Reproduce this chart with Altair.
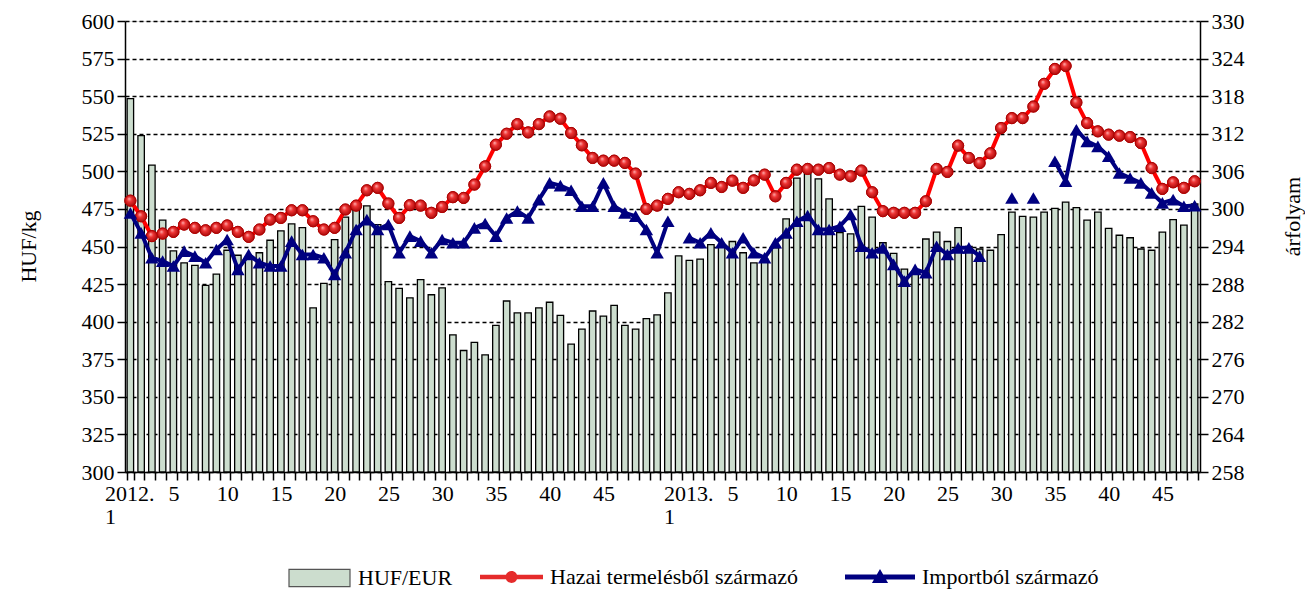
import altair as alt
import pandas as pd

# ---------------- data ----------------
years = [2012] * 52 + [2013] * 48
weeks = list(range(1, 53)) + list(range(1, 49))

huf_eur = [317.6, 311.7, 307.0, 298.2, 293.3, 291.4, 291.0, 287.8, 289.6, 293.4,
           292.6, 292.0, 293.0, 295.0, 296.5, 297.6, 297.0, 284.2, 288.1, 295.1,
           298.7, 299.8, 300.5, 297.5, 288.4, 287.3, 285.8, 288.7, 286.3, 287.4,
           279.9, 277.4, 278.7, 276.7, 281.4, 285.3, 283.4, 283.4, 284.2, 285.1,
           283.0, 278.4, 280.8, 283.7, 282.9, 284.6, 281.4, 280.8, 282.5, 283.1,
           286.6, 292.5, 291.8, 292.0, 294.3, 294.0, 294.8, 293.0, 291.4, 292.0,
           293.8, 298.4, 304.9, 305.8, 304.8, 301.6, 296.2, 296.0, 300.4, 298.7,
           294.6, 292.9, 290.4, 289.6, 295.2, 296.3, 294.8, 297.0, 294.0, 293.6,
           293.4, 295.9, 299.5, 298.8, 298.7, 299.5, 300.1, 301.1, 300.2, 298.2,
           299.5, 296.9, 295.8, 295.4, 293.6, 293.4, 296.3, 298.3, 297.4, 300.8]

hazai = [480.5, 470.1, 456.9, 458.6, 459.7, 464.6, 462.4, 460.8, 462.4, 464.0,
         459.7, 456.4, 461.3, 467.9, 469.0, 474.1, 474.1, 466.8, 461.3, 462.4,
         474.6, 477.2, 487.4, 489.0, 478.6, 469.0, 477.5,
         477.2, 472.4, 476.3, 482.8, 482.3, 491.2, 503.3, 517.7, 525.0, 531.4,
         525.9, 531.4, 536.5, 535.0, 525.5, 517.3, 508.9, 507.1, 507.1, 505.6,
         498.5, 475.0, 477.2, 481.7, 486.1,
         485.0, 487.4, 492.3, 489.6, 493.8, 489.0, 494.0, 497.8, 483.4, 492.3,
         501.1, 501.6, 501.1, 502.2, 497.8, 496.7, 500.5, 486.1, 473.5, 472.4,
         472.4, 472.4, 480.1, 501.6, 499.6, 517.1, 508.9, 505.5,
         512.0, 528.8, 535.4, 535.4, 543.1, 558.2, 568.1, 570.1, 545.8, 532.1,
         526.6, 524.4, 523.7, 522.8, 518.8, 502.2, 488.3, 492.7, 489.0, 493.4]

importbol = [472.3, 459.1, 442.5, 440.3, 437.0, 446.9, 443.6, 439.2, 448.0, 454.7,
             434.8, 444.7, 439.2, 437.0, 437.0, 453.6, 444.7, 444.7, 442.5, 431.4,
             445.8, 461.3, 467.9, 461.3, 464.6, 445.8, 456.9,
             453.6, 445.8, 454.7, 452.5, 452.5, 462.4, 465.3, 456.9, 469.0, 473.5,
             469.0, 481.2, 492.3, 490.5, 487.4, 476.8, 476.8, 492.3, 476.8, 472.4,
             470.2, 461.3, 445.8, 466.8, None,
             455.8, 452.5, 459.1, 452.5, 445.8, 455.8, 445.8, 442.5, 452.5, 459.1,
             466.8, 470.6, 461.3, 461.3, 463.5, 471.3, 450.2, 445.8, 449.1, 438.1,
             427.0, 434.8, 432.5, 450.2, 444.7, 449.1, 449.1, 443.6,
             None, None, 482.3, None, 482.3, None, 506.7, 493.4, 527.7, 519.9,
             516.6, 510.0, 498.9, 495.6, 492.3, 485.7, 479.0, 481.2, 476.8, 477.2]

series_names = ["HUF/EUR", "Hazai termelésből származó", "Importból származó"]

# tick labels (every 5th week, year at week 1)
x_labels = []
for y, w in zip(years, weeks):
    if w == 1:
        x_labels.append(f"{y}./1")
    elif w % 5 == 0 and w < 50:
        x_labels.append(str(w))
    else:
        x_labels.append("")

keys = [f"{i:03d}|{lab}" for i, lab in enumerate(x_labels)]

seg, s = [], 0
for v in importbol:
    if v is None:
        s += 1
    seg.append(s)

df = pd.DataFrame({
    "key": keys, "eur": huf_eur, "hazai": hazai, "imp": importbol, "seg": seg,
    "s_eur": series_names[0], "s_haz": series_names[1], "s_imp": series_names[2],
})

FONT = "Liberation Serif"
BAR_FILL = "#ccddce"
RED = "#ff0000"
NAVY = "#000080"

is_year = "isValid(datum.value) && indexof(datum.value,'/')>=0"
x_enc = alt.X(
    "key:O", sort=keys,
    scale=alt.Scale(paddingInner=0.4, paddingOuter=0.2),
    axis=alt.Axis(
        title=None,
        labelExpr="isValid(datum.value) && indexof(datum.value,'|')>=0 ? "
                  "split(split(datum.value,'|')[1],'/') : ''",
        labelAlign={"condition": {"test": is_year, "value": "left"}, "value": "center"},
        labelOffset={"condition": {"test": is_year, "value": -26}, "value": 0},
        labelAngle=0, labelOverlap=False, labelBound=False, tickBand="extent",
        tickSize=8, tickColor="black", tickWidth=1.5, domainColor="black",
        domainWidth=1.5, labelFont=FONT, labelFontSize=22, labelColor="black",
        labelPadding=3, labelLineHeight=23, labelBaseline="top", grid=False,
    ),
)

left_axis = alt.Axis(
    values=list(range(300, 601, 25)), title="HUF/kg", grid=True,
    gridDash=[4, 3], gridColor="black", gridWidth=1.5, gridOpacity=1,
    tickSize=8, tickColor="black", tickWidth=1.5, domainColor="black",
    domainWidth=1.5, labelFont=FONT, labelFontSize=22, labelColor="black",
    labelPadding=3, titleFont=FONT, titleFontSize=22, titleFontWeight="normal",
    titleColor="black", titleAngle=270, titleX=-97, titleY=225,
    titleAlign="center", titleBaseline="middle",
)
left_scale = alt.Scale(domain=[300, 600], nice=False, zero=False)

rect_path = "M-1,-0.28L1,-0.28L1,0.28L-1,0.28Z"
red_path = ("M-1,-0.07L1,-0.07L1,0.07L-1,0.07Z "
            "M0.19,0A0.19,0.19 0 1,1 -0.19,0A0.19,0.19 0 1,1 0.19,0Z")
blue_path = "M-1,-0.07L1,-0.07L1,0.07L-1,0.07Z M0,-0.23L0.23,0.17L-0.23,0.17Z"

LEG_CY = 556  # legend centre line, relative to plot top


def legend(x, sym, w, stroke_w=0.0):
    return alt.Legend(
        orient="none", legendX=x, legendY=LEG_CY - w / 2, title=None, padding=0,
        symbolType=sym, symbolSize=w * w, symbolStrokeWidth=stroke_w,
        symbolStrokeColor="#555555", labelFont=FONT, labelFontSize=22,
        labelColor="black", labelOffset=7, labelLimit=500,
    )


sphere = {
    "gradient": "radial", "x1": 0.38, "y1": 0.32, "r1": 0.0,
    "x2": 0.5, "y2": 0.5, "r2": 0.6,
    "stops": [{"offset": 0.0, "color": "#ffb4b4"},
              {"offset": 0.35, "color": "#ee3434"},
              {"offset": 1.0, "color": "#9a0000"}],
}

base = alt.Chart(df)

bars = base.mark_bar(stroke="black", strokeWidth=1.3).encode(
    x=x_enc,
    y=alt.Y("eur:Q", scale=alt.Scale(domain=[258, 330], nice=False, zero=False),
            axis=alt.Axis(
                orient="right", values=list(range(258, 331, 6)), title="árfolyam",
                grid=False, tickSize=8, tickColor="black", tickWidth=1.5,
                domainColor="black", domainWidth=1.5, labelFont=FONT,
                labelFontSize=22, labelColor="black", labelPadding=3,
                titleFont=FONT, titleFontSize=22, titleFontWeight="normal",
                titleColor="black", titleAngle=270, titleX=92, titleY=195,
                titleAlign="center", titleBaseline="middle")),
    y2=alt.datum(258),
    color=alt.Color("s_eur:N", scale=alt.Scale(domain=[series_names[0]], range=[BAR_FILL]),
                    legend=legend(163, rect_path, 61, 1.2)),
)

red_line = base.mark_line(color=RED, strokeWidth=4).encode(
    x=x_enc, y=alt.Y("hazai:Q", scale=left_scale, axis=left_axis))
red_pts = base.mark_point(filled=True, size=125, opacity=1, stroke="#a00000",
                          strokeWidth=1).encode(
    x=x_enc, y=alt.Y("hazai:Q", scale=left_scale, axis=left_axis),
    color=alt.Color("s_haz:N", scale=alt.Scale(domain=[series_names[1]], range=["#e52b2b"]),
                    legend=legend(355, red_path, 63)))
red_shine = base.mark_point(filled=True, size=125, opacity=1, fill=sphere,
                            stroke="#b00000", strokeWidth=0.8).encode(
    x=x_enc, y=alt.Y("hazai:Q", scale=left_scale, axis=left_axis))

imp_base = base.transform_filter("isValid(datum.imp)")
blue_line = imp_base.mark_line(color=NAVY, strokeWidth=4).encode(
    x=x_enc, y=alt.Y("imp:Q", scale=left_scale, axis=left_axis), detail="seg:N")
blue_pts = imp_base.mark_point(filled=True, shape="triangle-up", size=180, opacity=1).encode(
    x=x_enc, y=alt.Y("imp:Q", scale=left_scale, axis=left_axis),
    color=alt.Color("s_imp:N", scale=alt.Scale(domain=[series_names[2]], range=[NAVY]),
                    legend=legend(720, blue_path, 70)))

lines = alt.layer(red_line, red_pts, red_shine, blue_line, blue_pts).resolve_scale(
    color="independent").resolve_legend(color="independent")

chart = alt.layer(bars, lines).resolve_scale(
    y="independent", color="independent").resolve_legend(color="independent").properties(
    width=1075, height=451,
    autosize=alt.AutoSizeParams(type="none"),
    padding={"left": 117, "top": 13, "right": 105, "bottom": 119},
).configure_view(strokeWidth=0).configure(background="white")

chart.save("out.html", embed_options={"renderer": "svg", "actions": False})
